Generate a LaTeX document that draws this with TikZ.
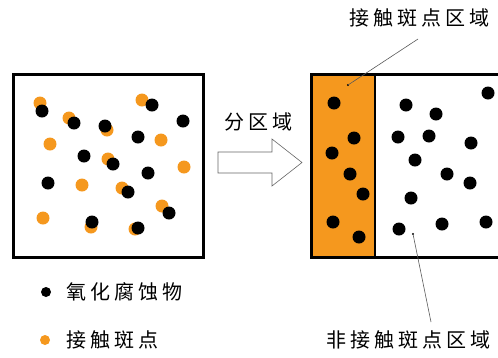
\documentclass[tikz,border=0pt]{standalone}
\usepackage{fontspec}
\newfontfamily\cjk[LetterSpace=20]{Noto Sans CJK SC}
\definecolor{spot}{RGB}{245,152,30}
\begin{document}
\begin{tikzpicture}[x=1pt,y=-1pt,
  box/.style={draw=black,line width=3pt},
  bdot/.style={fill=black},
  odot/.style={fill=spot},
  lbl/.style={font=\cjk\fontsize{20}{20}\selectfont,inner sep=0pt},
  leader/.style={draw=gray!70!black,line width=0.6pt}]
\useasboundingbox (0,0) rectangle (498,357);
% left box
\draw[box] (13,74) rectangle (203,257);
\foreach \x/\y in {40/103,142/100,69/118,107/130,50/144,161/140,108/159,184/167,82/185,122/188,162/206,43/218,91/227,135/229}
  \fill[odot] (\x,\y) circle (6.5);
\foreach \x/\y in {42/111,152/105,74/123,105/126,183/121,138/137,84/156,113/164,148/173,48/183,128/192,169/213,92/222,138/228}
  \fill[bdot] (\x,\y) circle (6.5);
% arrow
\draw[draw=gray!80!black,line width=0.6pt,fill=white] (218,152) -- (272,152) -- (272,139) -- (302,162.5) -- (272,186) -- (272,173) -- (218,173) -- cycle;
\node[lbl] (fq) at (258,122) {分区域};
% right box
\fill[spot] (311,74) rectangle (375,257);
\draw[box] (311,74) rectangle (520,257);
\draw[line width=2.4pt] (375,74) -- (375,257);
\foreach \x/\y in {334/103,354/138,332/153,350/174,363/194,333/222,359/237,488/93,406/105,436/114,398/137,429/136,471/143,415/160,447/174,470/183,411/198,399/229,442/224,486/222}
  \fill[bdot] (\x,\y) circle (6.5);
% leaders
\coordinate (p1) at (348,85);
\coordinate (p2) at (413,234);
\fill (p1) circle (1.2);
\fill (p2) circle (1.2);
\node[lbl,anchor=west] (top) at (349,18) {接触斑点区域};
\node[lbl,anchor=west] (bot) at (326,340) {非接触斑点区域};
\draw[leader] (p1) -- (418,39);
\draw[leader] (p2) -- (431,322);
% legend
\fill[bdot] (46,292) circle (5);
\node[lbl,anchor=west] (l1) at (66,292) {氧化腐蚀物};
\fill[odot] (45,340) circle (5);
\node[lbl,anchor=west] (l2) at (66,340) {接触斑点};
\end{tikzpicture}
\end{document}
